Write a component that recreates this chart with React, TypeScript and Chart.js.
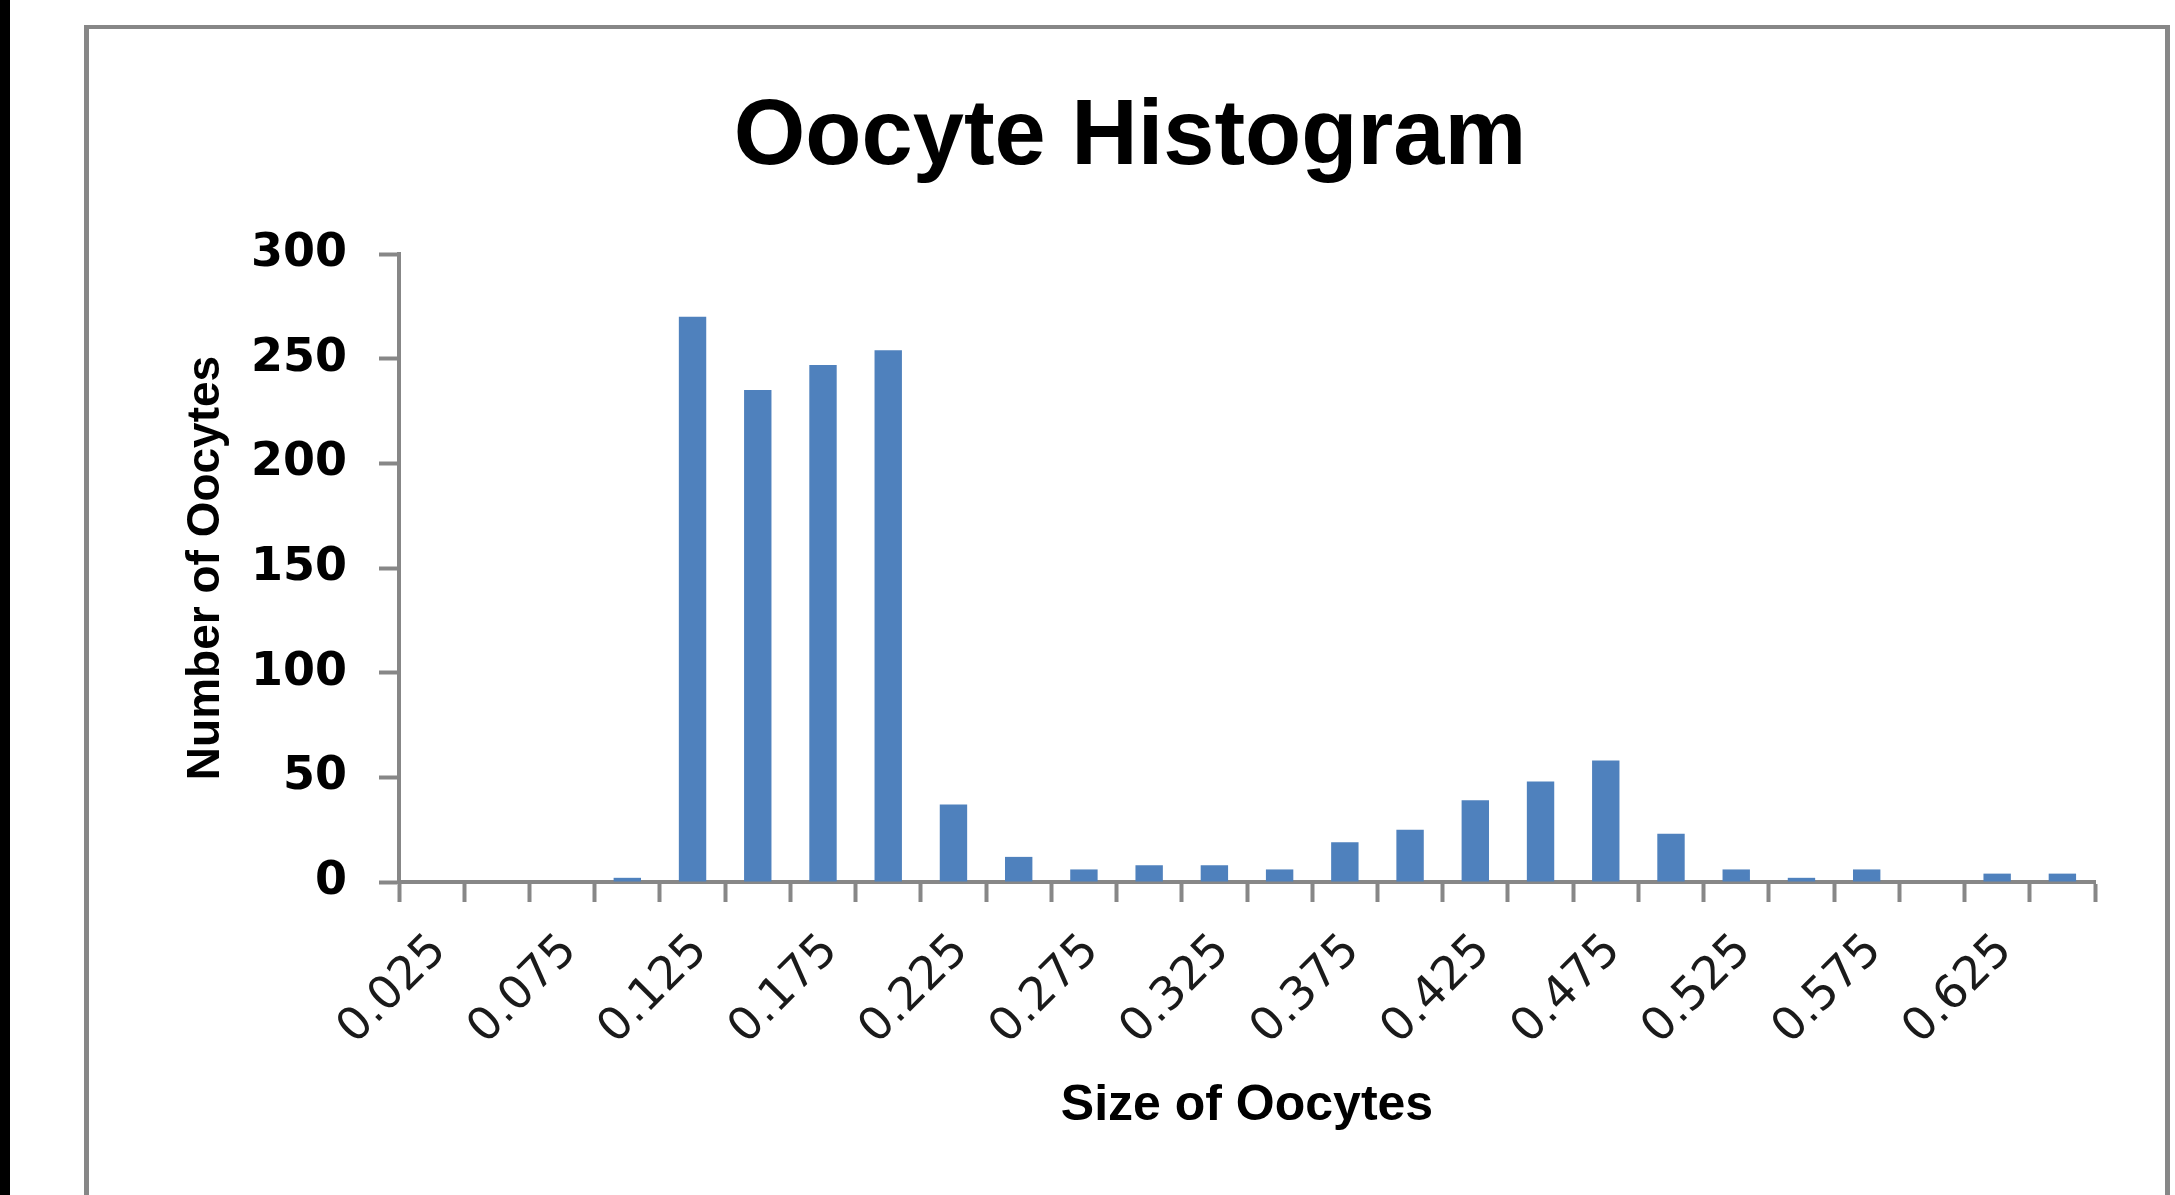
import React, { useEffect, useRef } from "react";
import { Chart, registerables } from "chart.js";

Chart.register(...registerables);

const categories = [
  "0.025", "0.05", "0.075", "0.1", "0.125", "0.15", "0.175", "0.2", "0.225", "0.25",
  "0.275", "0.3", "0.325", "0.35", "0.375", "0.4", "0.425", "0.45", "0.475", "0.5",
  "0.525", "0.55", "0.575", "0.6", "0.625", "0.65",
];
const counts = [0, 0, 0, 2, 270, 235, 247, 254, 37, 12, 6, 8, 8, 6, 19, 25, 39, 48, 58, 23, 6, 2, 6, 0, 4, 4];
const shownTickLabels = [
  "0.025", "0.075", "0.125", "0.175", "0.225", "0.275", "0.325",
  "0.375", "0.425", "0.475", "0.525", "0.575", "0.625",
];
const yTicks = [0, 50, 100, 150, 200, 250, 300];

const W = 2175;
const H = 1195;
const AXIS = "#878787";
const PAD_LEFT = 165;

export default function App() {
  const ref = useRef<HTMLCanvasElement | null>(null);

  useEffect(() => {
    document.body.style.margin = "0";
    const canvas = ref.current;
    if (!canvas) return;
    const chart = new Chart(canvas, {
      type: "bar",
      data: {
        labels: categories,
        datasets: [
          {
            label: "Number of Oocytes",
            data: counts,
            backgroundColor: "#4F81BD",
            borderWidth: 0,
            barPercentage: 0.42,
            categoryPercentage: 1,
          },
        ],
      },
      options: {
        responsive: false,
        animation: false,
        devicePixelRatio: 1,
        layout: { padding: { left: PAD_LEFT, right: 80, top: 0, bottom: 0 } },
        plugins: {
          legend: { display: false },
          tooltip: { enabled: false },
          title: {
            display: true,
            text: "Oocyte Histogram",
            color: "#000",
            font: { family: "'Liberation Sans', Arial, sans-serif", size: 92, weight: "bold", lineHeight: 1.2 },
            padding: { top: 83, bottom: 60.6 },
          },
        },
        scales: {
          x: {
            type: "category",
            offset: true,
            grid: {
              offset: true,
              drawOnChartArea: false,
              drawTicks: true,
              tickLength: 20,
              tickWidth: 4,
              tickColor: AXIS,
            },
            border: { display: true, color: AXIS, width: 4 },
            ticks: {
              autoSkip: false,
              minRotation: 45,
              maxRotation: 45,
              padding: 22,
              labelOffset: 8,
              color: "#1a1a1a",
              font: { family: "'DejaVu Sans', sans-serif", size: 46 },
              callback: (_v: any, i: number) =>
                shownTickLabels.includes(categories[i]) ? categories[i] : "",
            },
            title: {
              display: true,
              text: "Size of Oocytes",
              color: "#000",
              font: { family: "'Liberation Sans', Arial, sans-serif", size: 50, weight: "bold", lineHeight: 1.2 },
              padding: { top: 0, bottom: 59 },
            },
            afterFit: (s: any) => {
              s.height = H - 882;
            },
          },
          y: {
            min: 0,
            max: 300,
            afterBuildTicks: (s: any) => {
              s.ticks = yTicks.map((v) => ({ value: v }));
            },
            grid: {
              drawOnChartArea: false,
              drawTicks: true,
              tickLength: 20,
              tickWidth: 4,
              tickColor: AXIS,
            },
            border: { display: true, color: AXIS, width: 4 },
            ticks: {
              padding: 32,
              color: "#000",
              font: { family: "'DejaVu Sans', sans-serif", size: 46, weight: "bold" },
            },
            title: {
              display: true,
              text: "Number of Oocytes",
              color: "#000",
              font: { family: "'Liberation Sans', Arial, sans-serif", size: 46, weight: "bold", lineHeight: 1.2 },
              padding: { top: 206 - PAD_LEFT - 27.6, bottom: 0 },
            },
            afterFit: (s: any) => {
              s.width = 399 - PAD_LEFT;
            },
          },
        },
      },
    });
    return () => chart.destroy();
  }, []);

  return (
    <div style={{ position: "fixed", left: 0, top: 0, width: W, height: H, background: "#fff", overflow: "hidden" }}>
      <div style={{ position: "absolute", left: 0, top: 0, width: 10, height: H, background: "#000" }} />
      <div
        style={{
          position: "absolute",
          left: 84,
          top: 25,
          width: 2175 - 84 - 5,
          height: H,
          borderLeft: `5px solid ${AXIS}`,
          borderTop: `4px solid ${AXIS}`,
          borderRight: `5px solid ${AXIS}`,
          boxSizing: "border-box",
        }}
      />
      <canvas ref={ref} width={W} height={H} style={{ position: "absolute", left: 0, top: 0, width: W, height: H }} />
    </div>
  );
}
